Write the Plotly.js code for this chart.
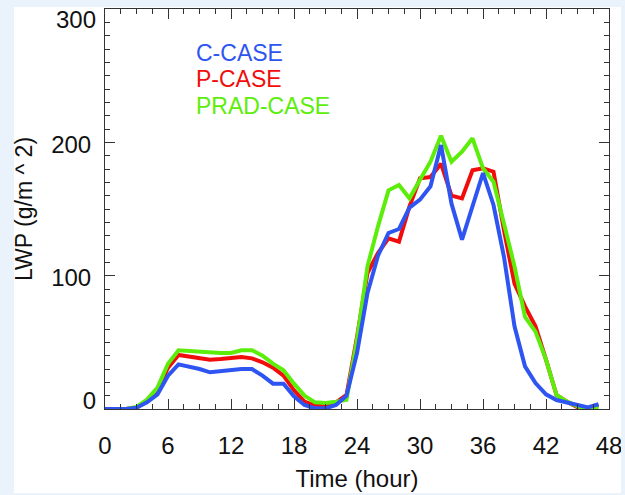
<!DOCTYPE html>
<html>
<head>
<meta charset="utf-8">
<script src="https://cdn.plot.ly/plotly-3.0.1.min.js"></script>
<style>html,body{margin:0;padding:0;background:#eaf3fc;}#chart{width:625px;height:495px;}</style>
</head>
<body>
<div id="chart"></div>
<script>
const hours = [0,1,2,3,4,5,6,7,8,9,10,11,12,13,14,15,16,17,18,19,20,21,22,23,24,25,26,27,28,29,30,31,32,33,34,35,36,37,38,39,40,41,42,43,44,45,46,47];
const cCase = [0,0,0,1,5,11,25,33.5,32,30, 27.5,28.5,29.5,30,30,25,19,19,9.5,3, 0.5,0.5,3,10,42,87,115,132,135,151, 157,167,198,154,127,152,177,153,114,62, 32,19.5,11,6.7,4.7,2.5,1.2,3.7];
const pCase = [0,0,0,1,6,14,31,40.5,39.5,38.5, 37,37.5,38,39,38,35,31,25,14,5.5, 2.5,2.5,5,10.5,54,102,117,128,125.5,152, 173,174,184,160,158,179,180.5,178,134,94, 77,62,37,10.5,5.5,1.3,0.3,3];
const pradCase = [0,0,0,1.5,7,16,34,44,43.5,43, 42,42,42,44,44,40,34,29,19,10, 5,4.5,5.5,7,52,107,137,164,168,158, 172,185.5,205,185.5,193,203,180.5,170.5,139,107, 69,58,37,10.5,5.5,2,0,0.5];
const seriesNames = ["C-CASE", "P-CASE", "PRAD-CASE"];
const xTicks = [0,6,12,18,24,30,36,42,48];
const yTicksMid = [100,200];
const yTickTop = [300];
const yTickBottom = [0];

const BLUE = "#2e55f2", RED = "#f20d0d", GREEN = "#5cee0a";
const FONT = "Liberation Sans, Arial, Helvetica, sans-serif";
const TICKFONT = {family: FONT, size: 24, color: "#111"};

const traces = [
  {x: hours, y: pCase, name: seriesNames[1], mode: "lines", line: {color: RED, width: 4}},
  {x: hours, y: pradCase, name: seriesNames[2], mode: "lines", line: {color: GREEN, width: 4}},
  {x: hours, y: cCase, name: seriesNames[0], mode: "lines", line: {color: BLUE, width: 4}},
  // empty carriers so the label-only overlay axes are drawn
  {x: [], y: [], yaxis: "y2", mode: "lines", hoverinfo: "skip", showlegend: false},
  {x: [], y: [], yaxis: "y3", mode: "lines", hoverinfo: "skip", showlegend: false}
];

function labelAxis(vals, shift) {
  return {
    overlaying: "y", side: "left", range: [0, 300], tickvals: vals, ticks: "",
    showline: false, showgrid: false, zeroline: false, ticklabelstandoff: 8,
    ticklabelshift: shift, ticklabeloverflow: "allow", tickfont: TICKFONT
  };
}

const layout = {
  width: 625, height: 495,
  margin: {l: 105, r: 16, t: 9, b: 86},
  paper_bgcolor: "#eaf3fc",
  plot_bgcolor: "#ffffff",
  showlegend: false,
  font: {family: FONT, size: 23, color: "#111"},
  xaxis: {
    range: [0, 48], tickvals: xTicks, ticks: "inside", ticklen: 10, tickcolor: "#333",
    minor: {dtick: 1.5, ticks: "inside", ticklen: 5, tickcolor: "#333"},
    showline: true, linecolor: "#333", linewidth: 1, mirror: "ticks",
    showgrid: false, zeroline: false, ticklabelstandoff: 15, ticklabeloverflow: "allow",
    tickfont: TICKFONT,
    title: {text: "Time (hour)", font: {family: FONT, size: 24, color: "#111"}, standoff: 12}
  },
  yaxis: {
    range: [0, 300], tickvals: [0,100,200,300], ticktext: ["", "100", "200", ""],
    ticks: "inside", ticklen: 10, tickcolor: "#333",
    minor: {dtick: 10, ticks: "inside", ticklen: 5, tickcolor: "#333"},
    showline: true, linecolor: "#333", linewidth: 1, mirror: "ticks",
    showgrid: false, zeroline: false, ticklabelstandoff: 8, ticklabelshift: 2, ticklabeloverflow: "allow",
    tickfont: TICKFONT,
    title: {text: "LWP (g/m ^ 2)", font: {family: FONT, size: 23, color: "#111"}, standoff: 12}
  },
  yaxis2: labelAxis(yTickTop, 11),
  yaxis3: labelAxis(yTickBottom, -8),
  shapes: [
    {type: "rect", xref: "paper", yref: "paper", x0: -0.1806, x1: 1.0238, y0: -0.21, y1: 1.005,
     fillcolor: "#ffffff", line: {width: 0}, layer: "below"},
    {type: "rect", xref: "paper", yref: "paper", x0: 1.0238, x1: 1.2, y0: -0.3, y1: 1.1,
     fillcolor: "#eaf3fc", line: {width: 0}, layer: "above"}
  ],
  annotations: [
    {x: 8.45, y: 267, xref: "x", yref: "y", xanchor: "left", yanchor: "middle", showarrow: false,
     text: seriesNames[0], font: {family: FONT, size: 23, color: BLUE}},
    {x: 8.45, y: 247.5, xref: "x", yref: "y", xanchor: "left", yanchor: "middle", showarrow: false,
     text: seriesNames[1], font: {family: FONT, size: 23, color: RED}},
    {x: 8.45, y: 227, xref: "x", yref: "y", xanchor: "left", yanchor: "middle", showarrow: false,
     text: seriesNames[2], font: {family: FONT, size: 23, color: GREEN}}
  ]
};

Plotly.newPlot("chart", traces, layout, {displayModeBar: false, staticPlot: true});
</script>
</body>
</html>
